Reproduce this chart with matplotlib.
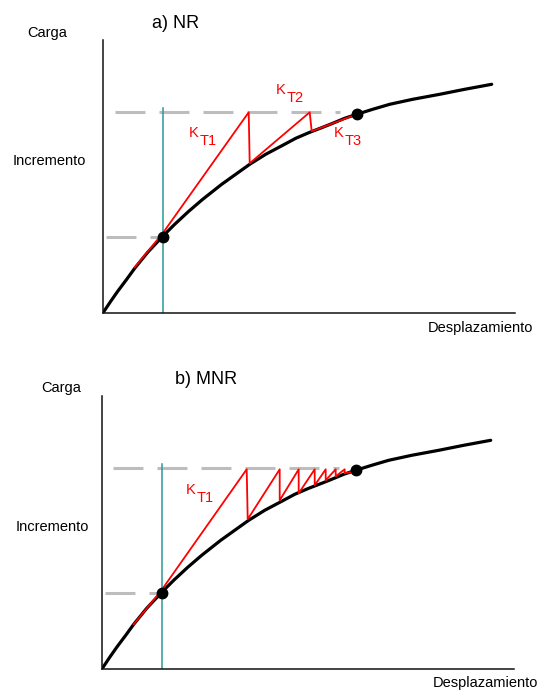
import matplotlib.pyplot as plt

plt.rcParams['font.family'] = ['Liberation Sans', 'DejaVu Sans']

# load-displacement curve (same in both panels)
curve_x = [0, 8, 15, 24, 32, 45, 60, 72, 86, 100, 119, 133, 147, 163, 180,
           193, 207, 220, 230, 242, 254, 270, 287, 310, 337, 362, 389]
curve_y = [0, 12, 22, 34, 45, 61, 77, 89, 102, 114, 129, 139, 149, 159, 168,
           175, 181, 186, 190, 195, 199, 204, 209, 214, 219, 224, 229]

# converged points
start_pt = (60, 76)
end_pt = (254, 199)

# load levels and displacement of step start
load_lo = 76
load_hi = 201
disp_lo = 60
teal_top = 205

# Newton-Raphson iterations
nr_x = [32, 60, 146, 147, 207, 209, 254]
nr_y = [46, 80, 201, 150, 201, 182, 199]

# modified Newton-Raphson iterations
mnr_x = [32, 59, 145, 146, 178, 178, 197, 197, 213, 213, 224, 224, 234, 234, 243, 243, 253]
mnr_y = [45, 78, 200, 150, 200, 169, 200, 176, 200, 184, 200, 189, 200, 193, 200, 196, 198]

W, H = 542, 691


def fx(px):
    return px / W


def fy(py):
    return 1 - py / H


def draw_panel(ax, it_x, it_y, hi_start):
    ax.set_xlim(0, 412)
    ax.set_ylim(0, 273)
    for s in ['top', 'right']:
        ax.spines[s].set_visible(False)
    for s in ['left', 'bottom']:
        ax.spines[s].set_linewidth(1.1)
        ax.spines[s].set_color('#111111')
    ax.set_xticks([])
    ax.set_yticks([])
    ax.patch.set_alpha(0)

    dash = (0, (9.8, 4.6))
    ax.plot([hi_start, 237], [load_hi, load_hi], color='#bdbdbd', lw=2.2, ls=dash)
    ax.plot([3, disp_lo], [load_lo, load_lo], color='#bdbdbd', lw=2.2, ls=dash)
    ax.plot([disp_lo, disp_lo], [0, teal_top], color='#2a9a9a', lw=1.1)
    ax.plot(curve_x, curve_y, color='black', lw=2.3, solid_capstyle='round',
            solid_joinstyle='round')
    ax.plot(it_x, it_y, color='#ff0000', lw=1.3)
    ax.plot([start_pt[0], end_pt[0]], [start_pt[1], end_pt[1]], 'o',
            color='black', ms=7.5, ls='none')


fig = plt.figure(figsize=(W / 100, H / 100), dpi=100)

ax1 = fig.add_axes([fx(102.7), fy(313.3), 412 / W, 273 / H])
draw_panel(ax1, nr_x, nr_y, 12)

ax2 = fig.add_axes([fx(101.7), fy(669.3), 412 / W, 273 / H])
draw_panel(ax2, mnr_x, mnr_y, 11)

txt = dict(fontsize=10.5, color='black', va='center')
fig.text(fx(47.5), fy(33), 'Carga', ha='center', **txt)
fig.text(fx(49), fy(161), 'Incremento', ha='center', **txt)
fig.text(fx(428), fy(328), 'Desplazamiento', ha='left', **txt)
fig.text(fx(61), fy(388), 'Carga', ha='center', **txt)
fig.text(fx(52), fy(527), 'Incremento', ha='center', **txt)
fig.text(fx(433), fy(683), 'Desplazamiento', ha='left', **txt)

fig.text(fx(152), fy(23), 'a) NR', fontsize=13, ha='left', va='center')
fig.text(fx(175), fy(380), 'b) MNR', fontsize=13, ha='left', va='center')

red = dict(color='#ff0000', fontsize=10.5, va='center', ha='left')
for kx, ky, sub in [(189, 133, 'T1'), (276, 90, 'T2'), (334, 133, 'T3'), (186, 490, 'T1')]:
    fig.text(fx(kx), fy(ky), 'K', **red)
    fig.text(fx(kx + 11), fy(ky + 8), sub, **red)

fig.savefig('out.png', dpi=100)
